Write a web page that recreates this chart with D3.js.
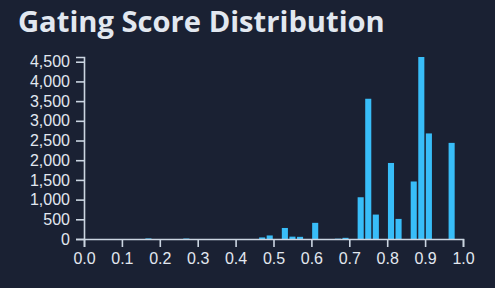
<!DOCTYPE html>
<html>
<head>
<meta charset="utf-8">
<script src="https://cdn.jsdelivr.net/npm/d3@7"></script>
<style>
  html, body { margin: 0; padding: 0; background: #1a2133; }
  svg { display: block; }
</style>
</head>
<body>
<svg id="chart" width="495" height="288"></svg>
<script>
// histogram bins (only the non-empty ones), width 0.02
var binStarts = [0.16, 0.26, 0.46, 0.48, 0.52, 0.54, 0.56, 0.60, 0.66, 0.68,
                 0.72, 0.74, 0.76, 0.80, 0.82, 0.86, 0.88, 0.90, 0.96];
var counts    = [15, 12, 40, 90, 280, 60, 55, 410, 8, 30,
                 1060, 3560, 620, 1930, 510, 1460, 4620, 2680, 2440];
var binWidth = 0.02;
var xTicks = [0, 0.1, 0.2, 0.3, 0.4, 0.5, 0.6, 0.7, 0.8, 0.9, 1.0];
var yTicks = [0, 500, 1000, 1500, 2000, 2500, 3000, 3500, 4000, 4500];

var svg = d3.select("#chart");
var width = +svg.attr("width");
var height = +svg.attr("height");
var margin = {top: 57, right: 32, bottom: 49, left: 84};

svg.append("rect").attr("width", width).attr("height", height).attr("fill", "#1a2133");

var title = svg.append("text")
    .attr("x", 18)
    .attr("y", 32)
    .attr("fill", "#e2e8f0")
    .attr("font-family", "'Open Sans', 'Noto Sans', sans-serif")
    .attr("font-weight", "bold")
    .attr("font-size", 27)
    .text("Gating Score Distribution");
// fit title to the same width as the reference
var tw = title.node().getComputedTextLength();
title.attr("font-size", 27 * 367 / tw);

var x = d3.scaleLinear().domain([0, 1]).range([margin.left, width - margin.right]);
var y = d3.scaleLinear().domain([0, d3.max(counts)]).range([height - margin.bottom, margin.top]);

var bars = binStarts.map(function(s, i) { return {x0: s, x1: s + binWidth, n: counts[i]}; });

svg.append("g")
  .selectAll("rect")
  .data(bars)
  .join("rect")
    .attr("x", function(d) { return x(d.x0) + 0.75; })
    .attr("width", function(d) { return x(d.x1) - x(d.x0) - 1.5; })
    .attr("y", function(d) { return y(d.n); })
    .attr("height", function(d) { return y(0) - y(d.n); })
    .attr("fill", "#38bdf8");

var xAxis = svg.append("g")
    .attr("transform", "translate(0," + (height - margin.bottom) + ")")
    .call(d3.axisBottom(x).tickValues(xTicks).tickFormat(d3.format(".1f")).tickSize(8).tickPadding(6));

var yAxis = svg.append("g")
    .attr("transform", "translate(" + margin.left + ",0)")
    .call(d3.axisLeft(y).tickValues(yTicks).tickFormat(d3.format(",")).tickSize(8).tickPadding(6));

[xAxis, yAxis].forEach(function(g) {
  g.selectAll("path, line").attr("stroke", "#cbd5e1").attr("stroke-width", 1.6);
  g.selectAll("text")
    .attr("fill", "#e2e8f0")
    .attr("font-family", "'Liberation Sans', Arial, sans-serif")
    .attr("font-size", 16);
});
</script>
</body>
</html>
